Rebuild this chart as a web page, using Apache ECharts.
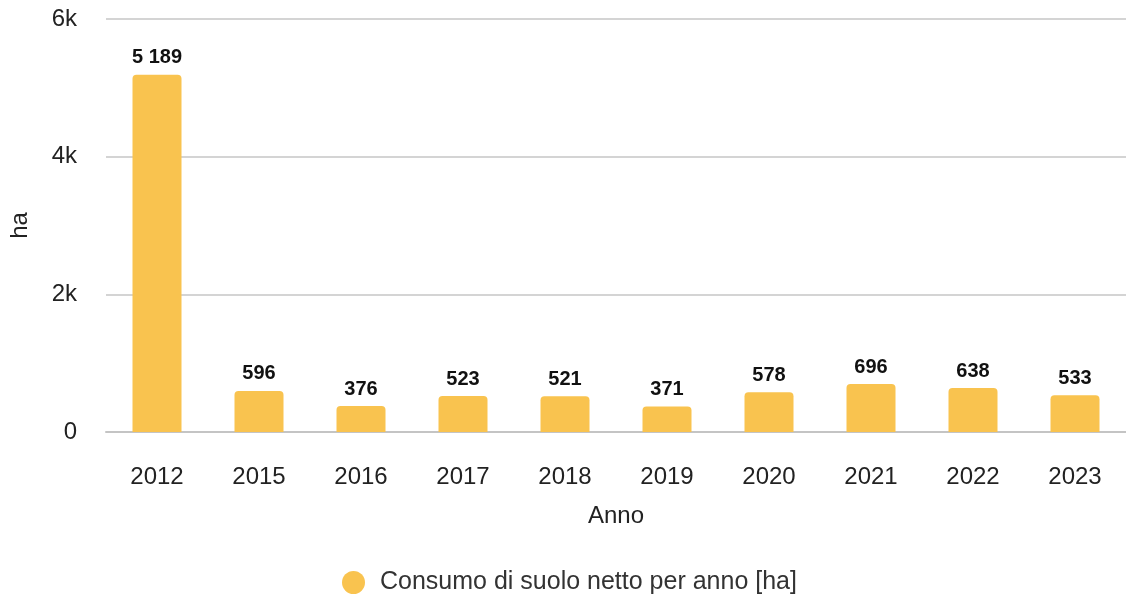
<!DOCTYPE html>
<html>
<head>
<meta charset="utf-8">
<script src="https://cdn.jsdelivr.net/npm/echarts@6/dist/echarts.min.js"></script>
<style>
html,body{margin:0;padding:0;background:#fff;}
#main{width:1126px;height:599px;}
</style>
</head>
<body>
<div id="main"></div>
<script>
var anni = ['2012','2015','2016','2017','2018','2019','2020','2021','2022','2023'];
var consumo = [5189, 596, 376, 523, 521, 371, 578, 696, 638, 533];
var yTicks = ['0','2k','4k','6k'];

function fmt(v){
	return String(v).replace(/\B(?=(\d{3})+(?!\d))/g, ' ');
}

var myChart = echarts.init(document.getElementById('main'));
var option = {
	animation: false,
	textStyle: {fontFamily: 'Liberation Sans, Arial, sans-serif'},
	grid: {left: 105, top: 19, width: 1027, height: 413, containLabel: false},
	legend: {
		top: 565,
		left: 337,
		icon: 'circle',
		itemWidth: 23,
		itemHeight: 23,
		textStyle: {fontSize: 25, color: '#333', padding: [0,0,0,10]},
		data: ['Consumo di suolo netto per anno [ha]']
	},
	xAxis: {
		type: 'category',
		data: anni,
		name: 'Anno',
		nameLocation: 'middle',
		nameGap: 72,
		nameTextStyle: {fontSize: 24, color: '#222'},
		axisTick: {show: false},
		axisLine: {lineStyle: {color: '#c4c4c4', width: 2}},
		axisLabel: {fontSize: 24, color: '#222', margin: 33}
	},
	yAxis: {
		type: 'value',
		min: 0,
		max: 6000,
		interval: 2000,
		name: 'ha',
		nameLocation: 'middle',
		nameGap: 74,
		nameRotate: 90,
		nameTextStyle: {fontSize: 24, color: '#222'},
		splitLine: {lineStyle: {color: '#d4d4d4', width: 2}},
		axisLabel: {
			fontSize: 24, color: '#222', margin: 29, padding: [5,0,0,0],
			formatter: function(v){ return yTicks[v/2000]; }
		}
	},
	series: [{
		name: 'Consumo di suolo netto per anno [ha]',
		type: 'bar',
		data: consumo,
		barWidth: 49,
		itemStyle: {color: '#f9c34f', borderRadius: [4,4,0,0]},
		label: {
			show: true,
			position: 'top',
			distance: 7,
			fontSize: 20,
			fontWeight: 'bold',
			color: '#111',
			formatter: function(p){ return fmt(p.value); }
		}
	}]
};
myChart.setOption(option);
</script>
</body>
</html>
